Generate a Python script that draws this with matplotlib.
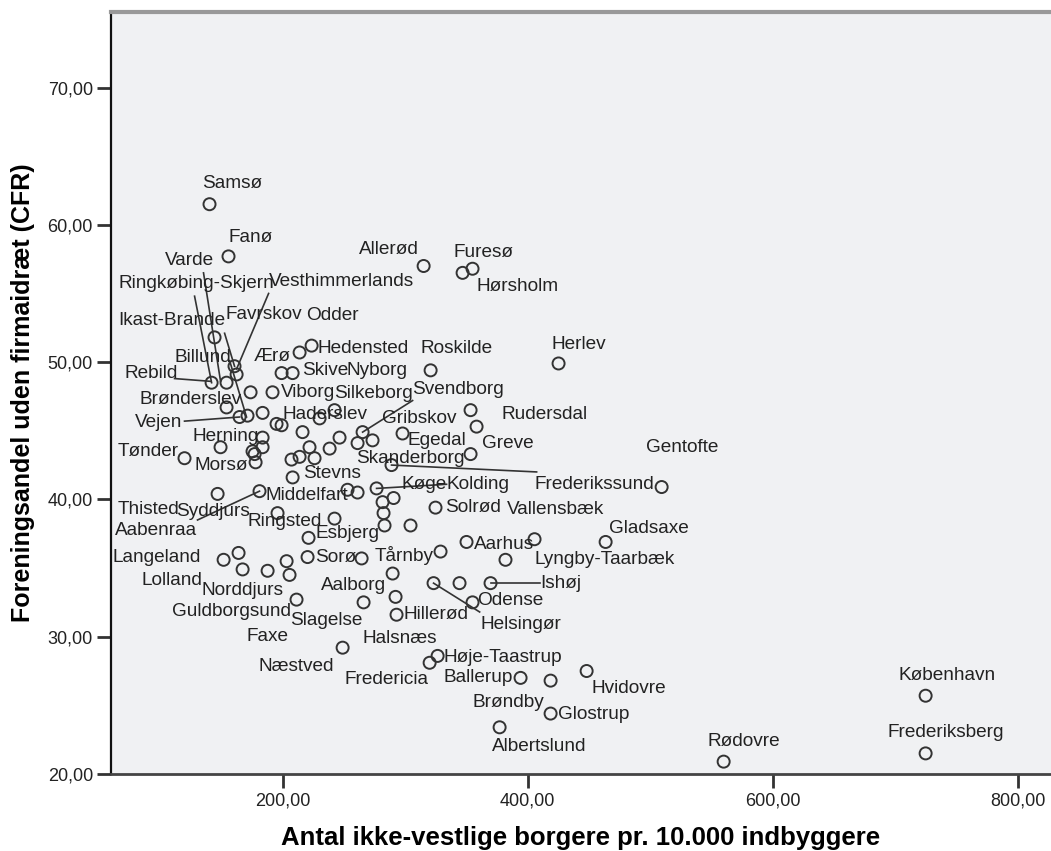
import matplotlib.pyplot as plt
from matplotlib.ticker import FuncFormatter

plt.rcParams['font.family'] = ['Liberation Sans', 'DejaVu Sans']

# ikke-vestlige borgere pr. 10.000 indbyggere (x) og CFR-andel (y)
borgere = [140.4, 155.9, 144.5, 160.8, 162.5, 142.1, 154.3, 173.9, 191.8, 154.3,
           164.9, 171.4, 183.7, 195.1, 199.2, 149.4, 183.7, 183.7, 175.5, 177.2,
           178.0, 120.0, 147.0, 181.2, 195.9, 151.9, 164.1, 167.4, 187.8, 203.3,
           205.7, 211.4, 213.9, 223.7, 199.2, 208.2, 216.3, 222.0, 207.3, 213.9,
           226.1, 208.2, 230.2, 242.4, 246.5, 238.4, 265.3, 261.2, 273.4, 297.9,
           320.8, 315.1, 346.9, 355.0, 353.4, 358.3, 353.4, 425.2, 288.9, 276.7,
           253.0, 261.2, 281.6, 290.6, 282.4, 283.2, 304.4, 324.8, 242.4, 221.2,
           220.4, 264.5, 328.9, 350.1, 405.6, 381.9, 463.6, 289.8, 323.2, 344.4,
           369.7, 292.2, 266.1, 355.0, 293.0, 249.0, 320.0, 326.5, 394.2, 418.7,
           448.1, 418.7, 377.1, 559.9, 724.7, 724.7, 509.3]
cfr = [61.5, 57.7, 51.8, 49.7, 49.1, 48.5, 48.5, 47.8, 47.8, 46.7,
       46.0, 46.1, 46.3, 45.5, 45.4, 43.8, 44.5, 43.8, 43.5, 43.3,
       42.7, 43.0, 40.4, 40.6, 39.0, 35.6, 36.1, 34.9, 34.8, 35.5,
       34.5, 32.7, 50.7, 51.2, 49.2, 49.2, 44.9, 43.8, 42.9, 43.1,
       43.0, 41.6, 45.9, 46.5, 44.5, 43.7, 44.9, 44.1, 44.3, 44.8,
       49.4, 57.0, 56.5, 56.8, 46.5, 45.3, 43.3, 49.9, 42.5, 40.8,
       40.7, 40.5, 39.8, 40.1, 39.0, 38.1, 38.1, 39.4, 38.6, 37.2,
       35.8, 35.7, 36.2, 36.9, 37.1, 35.6, 36.9, 34.6, 33.9, 33.9,
       33.9, 32.9, 32.5, 32.5, 31.6, 29.2, 28.1, 28.6, 27.0, 26.8,
       27.5, 24.4, 23.4, 20.9, 25.7, 21.5, 40.9]

kommuner = ['Samsø', 'Fanø', 'Varde', 'Ringkøbing-Skjern', 'Vesthimmerlands',
            'Ikast-Brande', 'Favrskov', 'Odder', 'Billund', 'Ærø', 'Hedensted',
            'Rebild', 'Skive', 'Nyborg', 'Roskilde', 'Allerød', 'Furesø',
            'Hørsholm', 'Herlev', 'Brønderslev', 'Viborg', 'Silkeborg',
            'Svendborg', 'Vejen', 'Haderslev', 'Gribskov', 'Rudersdal', 'Herning',
            'Egedal', 'Greve', 'Tønder', 'Morsø', 'Skanderborg', 'Gentofte',
            'Stevns', 'Køge', 'Kolding', 'Frederikssund', 'Thisted', 'Syddjurs',
            'Middelfart', 'Solrød', 'Vallensbæk', 'Aabenraa', 'Ringsted',
            'Esbjerg', 'Gladsaxe', 'Langeland', 'Sorø', 'Tårnby', 'Aarhus',
            'Lyngby-Taarbæk', 'Lolland', 'Norddjurs', 'Aalborg', 'Ishøj', 'Odense',
            'Guldborgsund', 'Slagelse', 'Hillerød', 'Helsingør', 'Faxe', 'Halsnæs',
            'Høje-Taastrup', 'Næstved', 'Fredericia', 'Ballerup', 'Hvidovre',
            'Brøndby', 'Glostrup', 'Albertslund', 'Rødovre', 'København',
            'Frederiksberg']
label_x = [134.7, 155.9, 103.7, 66.2, 188.6, 66.2, 153.5, 219.6, 111.9, 176.3, 228.6,
           71.1, 216.3, 252.2, 312.6, 262.0, 339.5, 358.3, 419.5, 83.3, 198.4, 242.4,
           306.1, 79.2, 200.0, 280.8, 378.7, 126.6, 302.0, 362.4, 65.4, 128.2, 260.4,
           496.2, 217.1, 297.1, 333.8, 405.6, 65.4, 113.5, 186.1, 333.0, 382.8, 62.9,
           171.4, 226.9, 466.0, 61.3, 226.9, 275.1, 355.9, 405.6, 84.9, 133.9, 231.0,
           410.5, 359.1, 109.4, 206.5, 298.7, 361.6, 170.6, 265.3, 331.4, 180.4, 250.6,
           331.4, 452.1, 355.0, 424.4, 370.5, 546.8, 702.7, 693.7]
label_y = [63.0, 59.1, 57.4, 55.7, 55.9, 53.0, 53.5, 53.4, 50.3, 50.4, 51.0,
           49.2, 49.4, 49.4, 51.0, 58.2, 58.0, 55.5, 51.3, 47.3, 47.8, 47.7,
           48.0, 45.6, 46.2, 45.9, 46.2, 44.6, 44.3, 44.1, 43.5, 42.5, 43.0,
           43.8, 41.9, 41.1, 41.1, 41.1, 39.3, 39.1, 40.3, 39.4, 39.3, 37.7,
           38.4, 37.5, 37.9, 35.8, 35.8, 35.9, 36.7, 35.6, 34.1, 33.4, 33.7,
           33.9, 32.6, 31.8, 31.2, 31.6, 30.9, 30.0, 29.9, 28.5, 27.8, 26.9,
           27.0, 26.2, 25.2, 24.3, 22.0, 22.4, 27.2, 23.0]

# hjælpelinjer fra etiket til punkt: (x0, y0, x1, y1)
leader_lines = [(135.5, 56.5, 149.4, 48.6),   # Varde
                (128.2, 54.8, 142.1, 48.5),   # Ringkøbing-Skjern
                (152.7, 52.1, 160.8, 49.7),   # Ikast-Brande
                (156.8, 50.1, 170.6, 46.0),   # Billund
                (188.6, 55.0, 162.5, 49.5),   # Vesthimmerlands
                (111.9, 48.8, 141.2, 48.6),   # Rebild
                (120.0, 45.7, 164.9, 46.0),   # Vejen
                (306.1, 47.2, 265.3, 44.9),   # Svendborg
                (288.9, 42.5, 407.3, 42.0),   # Skanderborg
                (276.7, 40.8, 333.8, 41.1),   # Køge
                (369.7, 33.9, 409.7, 33.9),   # Ishøj
                (323.2, 33.9, 360.8, 31.8),   # Helsingør
                (130.6, 38.5, 181.2, 40.6)]   # Syddjurs

fig = plt.figure(figsize=(10.51, 8.51), dpi=100)
ax = fig.add_axes([0.1056, 0.0905, 0.8944, 0.8954])
ax.set_facecolor('#f0f1f3')

for x0, y0, x1, y1 in leader_lines:
    ax.plot([x0, x1], [y0, y1], color='#333333', lw=1.2, zorder=2)

ax.scatter(borgere, cfr, s=75, facecolors='none', edgecolors='#333333',
           linewidths=1.4, zorder=3)

for name, lx, ly in zip(kommuner, label_x, label_y):
    ax.text(lx, ly, name, ha='left', va='center', fontsize=13.7,
            color='#222222', zorder=4)

ax.set_xlim(60, 827)
ax.set_ylim(20, 75.5)
ax.set_xticks([200, 400, 600, 800])
ax.set_yticks([20, 30, 40, 50, 60, 70])
fmt = FuncFormatter(lambda v, p: f'{v:.2f}'.replace('.', ','))
ax.xaxis.set_major_formatter(fmt)
ax.yaxis.set_major_formatter(fmt)
ax.tick_params(axis='both', length=10, width=2, color='#333333',
               labelsize=13, labelcolor='#222222', pad=3)

ax.spines['right'].set_visible(False)
ax.spines['left'].set_color('#111111')
ax.spines['left'].set_linewidth(1.6)
ax.spines['bottom'].set_color('#444444')
ax.spines['bottom'].set_linewidth(2)
ax.spines['top'].set_color('#999999')
ax.spines['top'].set_linewidth(3)

ax.set_xlabel('Antal ikke-vestlige borgere pr. 10.000 indbyggere',
              fontsize=18.5, fontweight='bold', labelpad=12)
ax.set_ylabel('Foreningsandel uden firmaidræt (CFR)',
              fontsize=18, fontweight='bold', labelpad=9)

fig.savefig('out.png', dpi=100)
